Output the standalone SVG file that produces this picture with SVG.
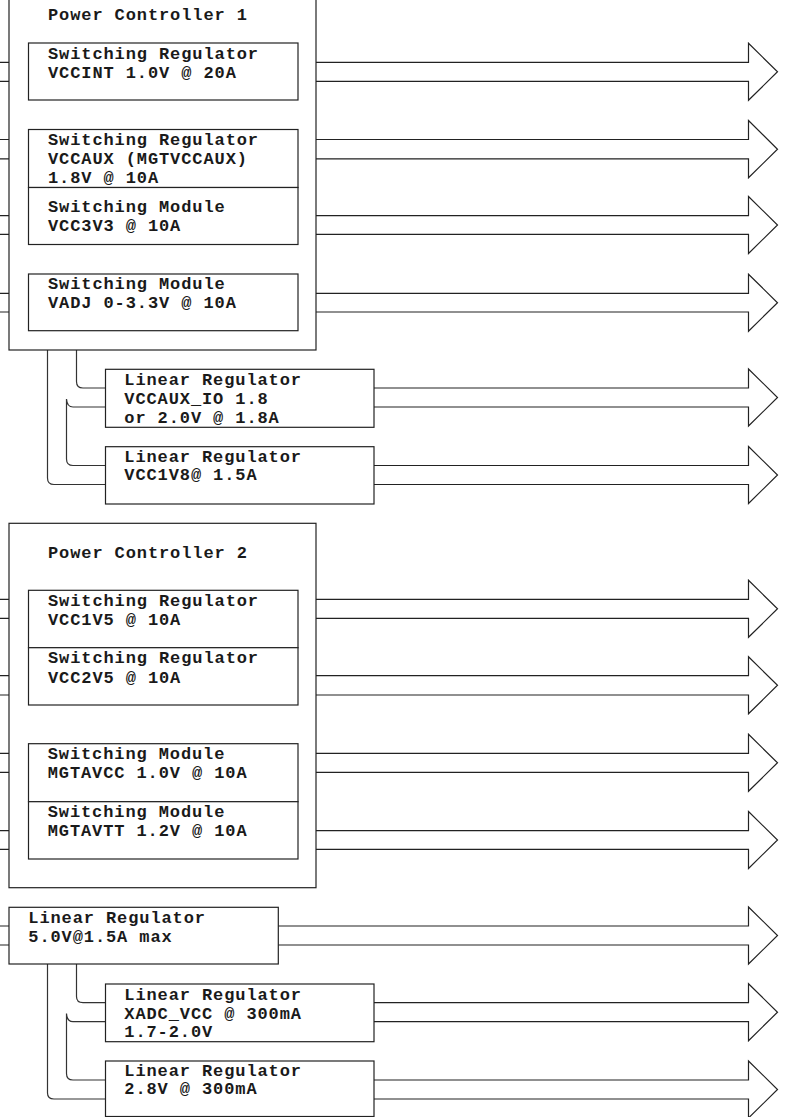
<svg xmlns="http://www.w3.org/2000/svg" width="794" height="1117" viewBox="0 0 794 1117">
<style>
.bg{fill:#fff}
.box{fill:#fff;stroke:#222;stroke-width:1.2}
.arr{fill:#fff;stroke:#222;stroke-width:1.2;stroke-linejoin:miter}
.wire{fill:none;stroke:#333;stroke-width:1.2}
.t{font-family:"Liberation Mono","Courier New",monospace;font-weight:bold;font-size:17px;letter-spacing:0.9px;fill:#1a1a1a}
</style>
<rect class="bg" x="0" y="0" width="794" height="1117"/>
<g id="connectors">
  <polygon class="arr" points="-5,62.3 748.5,62.3 748.5,43.3 777.5,71.8 748.5,100.3 748.5,81.3 -5,81.3"/>
  <polygon class="arr" points="-5,139.5 748.5,139.5 748.5,120.5 777.5,149.2 748.5,177.8 748.5,158.9 -5,158.9"/>
  <polygon class="arr" points="-5,215.7 748.5,215.7 748.5,196.5 777.5,225 748.5,253.5 748.5,234.3 -5,234.3"/>
  <polygon class="arr" points="-5,293.3 748.5,293.3 748.5,274.2 777.5,302.7 748.5,331.2 748.5,312 -5,312"/>
  <polygon class="arr" points="200,388 748.5,388 748.5,369 777.5,397.5 748.5,426 748.5,407 200,407"/>
  <polygon class="arr" points="200,465.5 748.5,465.5 748.5,446.5 777.5,475 748.5,503.5 748.5,484.5 200,484.5"/>
  <polygon class="arr" points="-5,599.3 748.5,599.3 748.5,580.3 777.5,608.8 748.5,637.3 748.5,618.3 -5,618.3"/>
  <polygon class="arr" points="-5,675.7 748.5,675.7 748.5,656.8 777.5,685.3 748.5,713.8 748.5,695 -5,695"/>
  <polygon class="arr" points="-5,753.3 748.5,753.3 748.5,734.3 777.5,762.8 748.5,791.3 748.5,772.3 -5,772.3"/>
  <polygon class="arr" points="-5,830.7 748.5,830.7 748.5,811.5 777.5,840 748.5,868.5 748.5,849.3 -5,849.3"/>
  <polygon class="arr" points="-5,926 748.5,926 748.5,907 777.5,935.5 748.5,964 748.5,945 -5,945"/>
  <polygon class="arr" points="200,1002.7 748.5,1002.7 748.5,983.7 777.5,1012.2 748.5,1040.7 748.5,1021.7 200,1021.7"/>
  <polygon class="arr" points="200,1080 748.5,1080 748.5,1061 777.5,1089.5 748.5,1118 748.5,1099 200,1099"/>
  <path class="wire" d="M47.5 350 V478 Q47.5 484.5 54 484.5 H106"/>
  <path class="wire" d="M76.5 350 V381.5 Q76.5 388 83 388 H106"/>
  <path class="wire" d="M106 407 H73 Q67 407 66.5 399 V459 Q66.5 465.5 73 465.5 H106"/>
  <path class="wire" d="M47.5 964 V1093 Q47.5 1099 54 1099 H106"/>
  <path class="wire" d="M76.5 964 V996.5 Q76.5 1002.7 83 1002.7 H106"/>
  <path class="wire" d="M106 1021.7 H73 Q67 1021.7 66.5 1013.5 V1073.5 Q66.5 1080 73 1080 H106"/>
</g>
<g id="pc1">
  <rect class="box" x="9" y="-10" width="307" height="360"/>
  <text class="t" x="48" y="20">Power Controller 1</text>
</g>
<g id="pc1-vccint">
  <rect class="box" x="28.5" y="43" width="269.5" height="57"/>
  <text class="t" x="48" y="58.7">Switching Regulator</text>
  <text class="t" x="48" y="78">VCCINT 1.0V @ 20A</text>
</g>
<g id="pc1-vccaux">
  <rect class="box" x="28.5" y="129.5" width="269.5" height="58"/>
  <text class="t" x="48" y="145">Switching Regulator</text>
  <text class="t" x="48" y="164.3">VCCAUX (MGTVCCAUX)</text>
  <text class="t" x="48" y="182.7">1.8V @ 10A</text>
</g>
<g id="pc1-vcc3v3">
  <rect class="box" x="28.5" y="187.5" width="269.5" height="57"/>
  <text class="t" x="48" y="211.7">Switching Module</text>
  <text class="t" x="48" y="231">VCC3V3 @ 10A</text>
</g>
<g id="pc1-vadj">
  <rect class="box" x="28.5" y="274" width="269.5" height="56.7"/>
  <text class="t" x="48" y="289.3">Switching Module</text>
  <text class="t" x="48" y="308.3">VADJ 0-3.3V @ 10A</text>
</g>
<g id="lin-vccaux-io">
  <rect class="box" x="105.5" y="369.3" width="268.5" height="58"/>
  <text class="t" x="124.3" y="385">Linear Regulator</text>
  <text class="t" x="124.3" y="404">VCCAUX_IO 1.8</text>
  <text class="t" x="124.3" y="422.7">or 2.0V @ 1.8A</text>
</g>
<g id="lin-vcc1v8">
  <rect class="box" x="105.5" y="446.7" width="268.5" height="57.3"/>
  <text class="t" x="124.3" y="461.7">Linear Regulator</text>
  <text class="t" x="124.3" y="480">VCC1V8@ 1.5A</text>
</g>
<g id="pc2">
  <rect class="box" x="9" y="523.3" width="307" height="364.4"/>
  <text class="t" x="48" y="557.7">Power Controller 2</text>
</g>
<g id="pc2-vcc1v5">
  <rect class="box" x="28.5" y="590.3" width="269.5" height="57.4"/>
  <text class="t" x="48" y="605.7">Switching Regulator</text>
  <text class="t" x="48" y="625">VCC1V5 @ 10A</text>
</g>
<g id="pc2-vcc2v5">
  <rect class="box" x="28.5" y="647.7" width="269.5" height="57.3"/>
  <text class="t" x="48" y="663.3">Switching Regulator</text>
  <text class="t" x="48" y="682.7">VCC2V5 @ 10A</text>
</g>
<g id="pc2-mgtavcc">
  <rect class="box" x="28.5" y="743.7" width="269.5" height="58"/>
  <text class="t" x="47.7" y="759">Switching Module</text>
  <text class="t" x="47.7" y="778.3">MGTAVCC 1.0V @ 10A</text>
</g>
<g id="pc2-mgtavtt">
  <rect class="box" x="28.5" y="801.7" width="269.5" height="57.3"/>
  <text class="t" x="47.7" y="816.7">Switching Module</text>
  <text class="t" x="47.7" y="836">MGTAVTT 1.2V @ 10A</text>
</g>
<g id="lin-5v0">
  <rect class="box" x="9" y="907.3" width="269.3" height="56.7"/>
  <text class="t" x="28.3" y="923.3">Linear Regulator</text>
  <text class="t" x="28.3" y="942.3">5.0V@1.5A max</text>
</g>
<g id="lin-xadc">
  <rect class="box" x="105.5" y="984" width="268.5" height="57.7"/>
  <text class="t" x="124.3" y="1000">Linear Regulator</text>
  <text class="t" x="124.3" y="1019">XADC_VCC @ 300mA</text>
  <text class="t" x="124.3" y="1037.3">1.7-2.0V</text>
</g>
<g id="lin-2v8">
  <rect class="box" x="105.5" y="1061" width="268.5" height="55.5"/>
  <text class="t" x="124.3" y="1075.7">Linear Regulator</text>
  <text class="t" x="124.3" y="1094">2.8V @ 300mA</text>
</g>
</svg>
